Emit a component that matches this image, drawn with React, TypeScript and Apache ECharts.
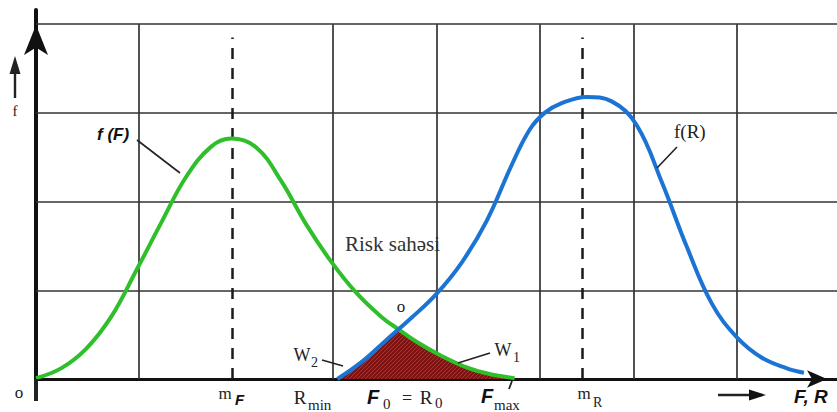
import React, { useEffect, useRef } from 'react';
import * as echarts from 'echarts';

// f(F) – green curve (x in grid units, y in grid units)
const greenX = [0, 0.25, 0.5, 0.75, 1.0, 1.25, 1.5, 1.75, 1.95, 2.2, 2.45, 2.7, 2.95, 3.2, 3.45, 3.62, 3.8, 4.05, 4.3, 4.55, 4.78];
const greenY = [0.01, 0.12, 0.34, 0.7, 1.22, 1.76, 2.28, 2.62, 2.71, 2.61, 2.23, 1.74, 1.32, 0.97, 0.7, 0.56, 0.42, 0.26, 0.13, 0.05, 0.01];

// f(R) – blue curve
const blueX = [3.01, 3.25, 3.5, 3.75, 4.0, 4.25, 4.5, 4.75, 4.93, 5.08, 5.25, 5.5, 5.75, 6.0, 6.25, 6.5, 6.75, 7.0, 7.25, 7.5, 7.67];
const blueY = [0, 0.19, 0.44, 0.69, 0.96, 1.31, 1.78, 2.41, 2.81, 3.0, 3.11, 3.18, 3.13, 2.86, 2.22, 1.49, 0.85, 0.47, 0.24, 0.12, 0.07];

// Risk area boundary (overlap of both curves)
const riskX = [3.03, 3.25, 3.5, 3.62, 3.8, 4.05, 4.3, 4.55, 4.78];
const riskY = [0, 0.19, 0.44, 0.56, 0.42, 0.26, 0.13, 0.05, 0.01];

// grid lines
const gridX = [1.03, 2.96, 4.0, 5.03, 5.97, 7.0];
const gridY = [1, 2, 3, 4];
const meanX = [1.96, 5.46];
const meanTop = 3.85;
const xMax = 8;
const yMax = 4.16;

const SERIF = "'Liberation Serif', 'DejaVu Serif', serif";
const SANS = "'Liberation Sans', Arial, sans-serif";

function makeHatch(): HTMLCanvasElement {
  const c = document.createElement('canvas');
  c.width = 4;
  c.height = 4;
  const ctx = c.getContext('2d');
  if (ctx) {
    ctx.fillStyle = '#801212';
    ctx.fillRect(0, 0, 4, 4);
    ctx.strokeStyle = '#ab3530';
    ctx.lineWidth = 1;
    ctx.beginPath();
    ctx.moveTo(0, 4);
    ctx.lineTo(4, 0);
    ctx.moveTo(-1, 1);
    ctx.lineTo(1, -1);
    ctx.moveTo(3, 5);
    ctx.lineTo(5, 3);
    ctx.stroke();
  }
  return c;
}

function txt(x: number, y: number, text: string, font: string, align: string = 'left', fill: string = '#222') {
  return {
    type: 'text',
    x,
    y,
    z: 100,
    silent: true,
    style: {
      text,
      font,
      fill,
      align,
      verticalAlign: 'middle',
      textAlign: align,
      textVerticalAlign: 'middle',
    },
  };
}

function seg(x1: number, y1: number, x2: number, y2: number, w: number = 1.5) {
  return {
    type: 'line',
    z: 100,
    silent: true,
    shape: { x1, y1, x2, y2 },
    style: { stroke: '#222', lineWidth: w },
  };
}

export default function App() {
  const ref = useRef<HTMLDivElement>(null);

  useEffect(() => {
    document.body.style.margin = '0';
    if (!ref.current) return;
    const chart = echarts.init(ref.current, undefined, { renderer: 'svg' });

    const pair = (xs: number[], ys: number[]) => xs.map((x, i) => [x, ys[i]]);

    const gridLines: any[] = [
      ...gridX.map((x) => [{ coord: [x, 0] }, { coord: [x, 4] }]),
      ...gridY.map((y) => [{ coord: [0, y] }, { coord: [xMax, y] }]),
    ];
    const meanLines: any[] = meanX.map((x) => [{ coord: [x, 0] }, { coord: [x, meanTop] }]);

    const option: any = {
      animation: false,
      backgroundColor: '#ffffff',
      grid: { left: 36, right: 0, top: 10, bottom: 33, containLabel: false },
      xAxis: {
        type: 'value',
        min: 0,
        max: xMax,
        axisLine: {
          show: true,
          onZero: false,
          lineStyle: { color: '#111', width: 3 },
          symbol: ['none', 'arrow'],
          symbolSize: [13, 20],
          symbolOffset: [0, -10],
        },
        axisTick: { show: false },
        axisLabel: { show: false },
        splitLine: { show: false },
      },
      yAxis: {
        type: 'value',
        min: 0,
        max: yMax,
        axisLine: {
          show: true,
          onZero: false,
          lineStyle: { color: '#111', width: 4 },
          symbol: ['none', 'arrow'],
          symbolSize: [18, 30],
          symbolOffset: [0, -15],
        },
        axisTick: { show: false },
        axisLabel: { show: false },
        splitLine: { show: false },
      },
      series: [
        {
          type: 'line',
          data: [[0, 0]],
          showSymbol: false,
          symbol: 'none',
          silent: true,
          z: 1,
          lineStyle: { width: 0 },
          markLine: {
            silent: true,
            z: 1,
            symbol: ['none', 'none'],
            label: { show: false },
            lineStyle: { color: '#333', width: 1.7, type: 'solid' },
            data: gridLines,
          },
        },
        {
          type: 'line',
          data: [[0, 0]],
          showSymbol: false,
          symbol: 'none',
          silent: true,
          z: 1,
          lineStyle: { width: 0 },
          markLine: {
            silent: true,
            z: 1,
            symbol: ['none', 'none'],
            label: { show: false },
            lineStyle: { color: '#1a1a1a', width: 2.5, type: [11, 9] },
            data: meanLines,
          },
        },
        {
          name: 'risk',
          type: 'line',
          data: pair(riskX, riskY),
          smooth: 0.3,
          symbol: 'none',
          silent: true,
          z: 2,
          lineStyle: { width: 0 },
          areaStyle: { color: { image: makeHatch(), repeat: 'repeat' }, opacity: 1 },
        },
        {
          name: 'f(F)',
          type: 'line',
          data: pair(greenX, greenY),
          smooth: 0.4,
          symbol: 'none',
          silent: true,
          z: 3,
          lineStyle: { color: '#2fbf2a', width: 4 },
        },
        {
          name: 'f(R)',
          type: 'line',
          data: pair(blueX, blueY),
          smooth: 0.4,
          symbol: 'none',
          silent: true,
          z: 4,
          lineStyle: { color: '#1b74d3', width: 4 },
        },
      ],
      graphic: [
        // y extension below the axis
        seg(36, 379, 36, 401, 4),
        // small f arrow
        seg(15, 98, 15, 70, 2.4),
        { type: 'polygon', z: 100, silent: true, shape: { points: [[9.5, 74], [15, 56], [20.5, 74]] }, style: { fill: '#222' } },
        txt(15, 111, 'f', `15px ${SERIF}`, 'center'),
        // f(F)
        txt(97, 134, 'f (F)', `italic bold 17px ${SANS}`, 'left', '#111'),
        seg(137, 140, 180, 173, 1.6),
        // f(R)
        txt(674, 131, 'f(R)', `19px ${SERIF}`, 'left'),
        seg(677, 147, 657, 168, 1.6),
        // Risk
        txt(345, 244, 'Risk sahəsi', `21px ${SERIF}`, 'left', '#333'),
        txt(401, 306, 'o', `17px ${SERIF}`, 'center'),
        // W2
        txt(302, 355, 'W', `18px ${SERIF}`, 'center'),
        txt(311, 362, '2', `14px ${SERIF}`, 'left'),
        seg(322, 360, 343, 366, 1.4),
        // W1
        txt(503, 350, 'W', `18px ${SERIF}`, 'center'),
        txt(513, 357, '1', `14px ${SERIF}`, 'left'),
        seg(458, 363, 490, 353, 1.6),
        // bottom labels
        txt(19, 392, 'o', `17px ${SERIF}`, 'center'),
        txt(225, 393, 'm', `17px ${SERIF}`, 'center'),
        txt(235, 399, 'F', `italic bold 15px ${SANS}`, 'left', '#111'),
        txt(300, 397, 'R', `19px ${SERIF}`, 'center'),
        txt(308, 405, 'min', `15px ${SERIF}`, 'left'),
        txt(367, 397, 'F', `italic bold 20px ${SANS}`, 'left', '#111'),
        txt(383, 404, '0', `15px ${SERIF}`, 'left'),
        txt(407, 398, '=', `18px ${SERIF}`, 'center'),
        txt(426, 397, 'R', `19px ${SERIF}`, 'center'),
        txt(435, 403, '0', `15px ${SERIF}`, 'left'),
        txt(481, 396, 'F', `italic bold 20px ${SANS}`, 'left', '#111'),
        txt(494, 405, 'max', `15px ${SERIF}`, 'left'),
        seg(512, 381, 509, 389, 1.8),
        txt(584, 393, 'm', `17px ${SERIF}`, 'center'),
        txt(593, 402, 'R', `14px ${SERIF}`, 'left'),
        seg(718, 395, 752, 395, 2.5),
        { type: 'polygon', z: 100, silent: true, shape: { points: [[749, 389.5], [766, 395], [749, 400.5]] }, style: { fill: '#111' } },
        txt(794, 396, 'F, R', `italic bold 19px ${SANS}`, 'left', '#111'),
      ],
    };

    chart.setOption(option);
    return () => {
      chart.dispose();
    };
  }, []);

  return <div ref={ref} style={{ width: 837, height: 412 }} />;
}
